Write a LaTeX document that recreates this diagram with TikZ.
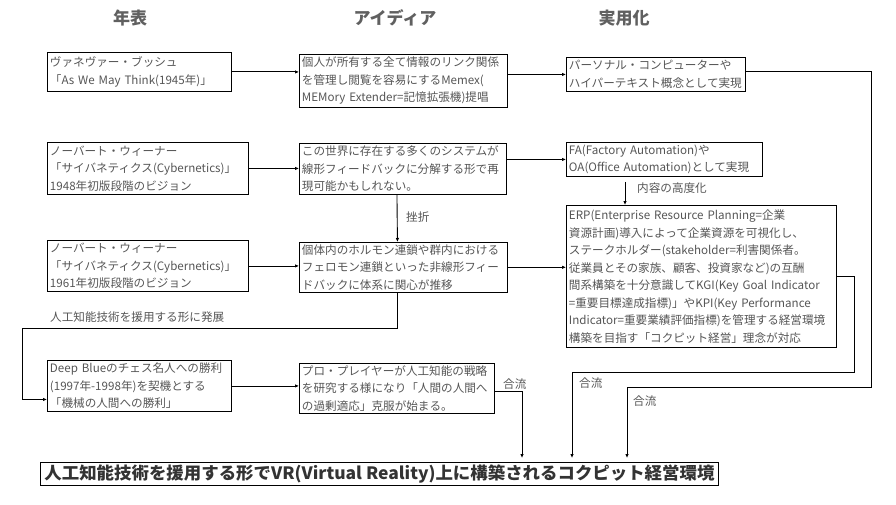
\documentclass[tikz,border=0pt]{standalone}
\usepackage{fontspec}
\usepackage{graphicx}
\setmainfont{Noto Sans CJK JP}
\usetikzlibrary{arrows.meta}
\definecolor{gristexte}{HTML}{555555}
\definecolor{gristitre}{HTML}{606060}
\definecolor{grisbut}{HTML}{333333}

\begin{document}
\begin{tikzpicture}[x=1pt,y=-1pt]
\tikzset{boite/.style={draw, line width=0.9pt, anchor=north west, inner xsep=2.5pt, inner ysep=2pt, align=left, text=gristexte, font=\fontsize{11.6}{17.5}\selectfont},
  etiquette/.style={anchor=west, inner sep=1pt, text=gristexte, font=\fontsize{11.6}{14}\selectfont},
  titre/.style={text=gristitre, font=\fontsize{17}{20}\selectfont\bfseries},
  fleche/.style={line width=0.9pt, -{Latex[length=4pt,width=3.5pt]}}}
\useasboundingbox (0,0) rectangle (896,505);
% en-tetes
\node[titre] (T1) at (130,18) {年表};
\node[titre] (T2) at (395,18) {アイディア};
\node[titre] (T3) at (624,18) {実用化};
% colonne 1
\node[boite, text width=179pt, minimum height=39pt] (A1) at (47,52) {ヴァネヴァー・ブッシュ\\「As We May Think(1945年)」};
\node[boite, text width=196pt, minimum height=52pt] (A2) at (47,142) {ノーバート・ウィーナー\\「サイバネティクス(Cybernetics)」\\1948年初版段階のビジョン};
\node[boite, text width=196pt, minimum height=51pt] (A3) at (47,240) {ノーバート・ウィーナー\\「サイバネティクス(Cybernetics)」\\1961年初版段階のビジョン};
\node[boite, text width=179pt, minimum height=51pt] (A4) at (47,360) {Deep Blueのチェス名人への勝利\\(1997年-1998年)を契機とする\\「機械の人間への勝利」};
% colonne 2
\node[boite, text width=203pt, minimum height=53pt] (I1) at (299,54) {個人が所有する全て情報のリンク関係\\を管理し閲覧を容易にするMemex(\\MEMory Extender=記憶拡張機)提唱};
\node[boite, text width=202pt, minimum height=51pt] (I2) at (299,143) {この世界に存在する多くのシステムが\\線形フィードバックに分解する形で再\\現可能かもしれない。};
\node[boite, text width=203pt, minimum height=49pt] (I3) at (299,242) {個体内のホルモン連鎖や群内における\\フェロモン連鎖といった非線形フィー\\ドバックに体系に関心が推移};
\node[boite, text width=190pt, minimum height=49pt] (I4) at (299,363) {プロ・プレイヤーが人工知能の戦略\\を研究する様になり「人間の人間へ\\の過剰適応」克服が始まる。};
% colonne 3
\node[boite, text width=174pt, minimum height=34pt] (P1) at (566,57) {パーソナル・コンピューターや\\ハイパーテキスト概念として実現};
\node[boite, text width=191pt, minimum height=34pt] (P2) at (566,142) {FA(Factory Automation)や\\OA(Office Automation)として実現};
\node[boite, text width=265pt, minimum height=142pt] (P3) at (566,205) {ERP(Enterprise Resource Planning=企業\\資源計画)導入によって企業資源を可視化し、\\ステークホルダー(stakeholder=利害関係者。\\従業員とその家族、顧客、投資家など)の互酬\\間系構築を十分意識してKGI(Key Goal Indicator\\=重要目標達成指標)」やKPI(Key Performance\\Indicator=重要業績評価指標)を管理する経営環境\\構築を目指す「コクピット経営」理念が対応};
% but
\node[draw, line width=0.9pt, anchor=north west, minimum width=678pt, minimum height=23pt, inner sep=1.5pt, text=grisbut, font=\fontsize{17}{20}\selectfont\bfseries] (G) at (40,462) {\resizebox{670pt}{\height}{人工知能技術を援用する形でVR(Virtual Reality)上に構築されるコクピット経営環境}};
% points de chute
\coordinate (j1) at (522,0);
\coordinate (j2) at (572,0);
\coordinate (j3) at (627,0);
\coordinate (k1) at (625,0);
% fleches
\draw[fleche] (A1.east) -- (A1.east -| I1.west);
\draw[fleche] (A2.east) -- (A2.east -| I2.west);
\draw[fleche] (A3.east) -- (A3.east -| I3.west);
\draw[fleche] (A4.east) -- (A4.east -| I4.west);
\draw[fleche] (I1.east |- P1.west) -- (P1.west);
\draw[fleche] (I2.east |- P2.west) -- (P2.west);
\draw[fleche] (I3.east) -- (I3.east -| P3.west);
\draw[fleche] ([xshift=-6pt]I2.south) -- ([xshift=-6pt]I3.north);
\node[etiquette] (L1) at (405,217) {挫折};
\draw[fleche, shorten <=5pt] (P2.south -| k1) -- (P3.north -| k1);
\node[etiquette] (L2) at (636,188) {内容の高度化};
\draw[fleche] ([xshift=-6pt]I3.south) |- (22,328) |- ([yshift=-13.5pt]A4.west);
\node[etiquette] (L3) at (49,317) {人工知能技術を援用する形に発展};
\draw[fleche, shorten >=4pt] ([yshift=-3.5pt]I4.east) -| (G.north -| j1);
\node[etiquette] (L4) at (502,384) {合流};
\draw[fleche, shorten >=4pt] (P3.east) -| (854,372) -| (G.north -| j2);
\node[etiquette] (L5) at (578,383) {合流};
\draw[fleche, shorten >=4pt] ([yshift=3pt]P1.east) -| (871,387) -| (G.north -| j3);
\node[etiquette] (L6) at (632,401) {合流};
\end{tikzpicture}
\end{document}
